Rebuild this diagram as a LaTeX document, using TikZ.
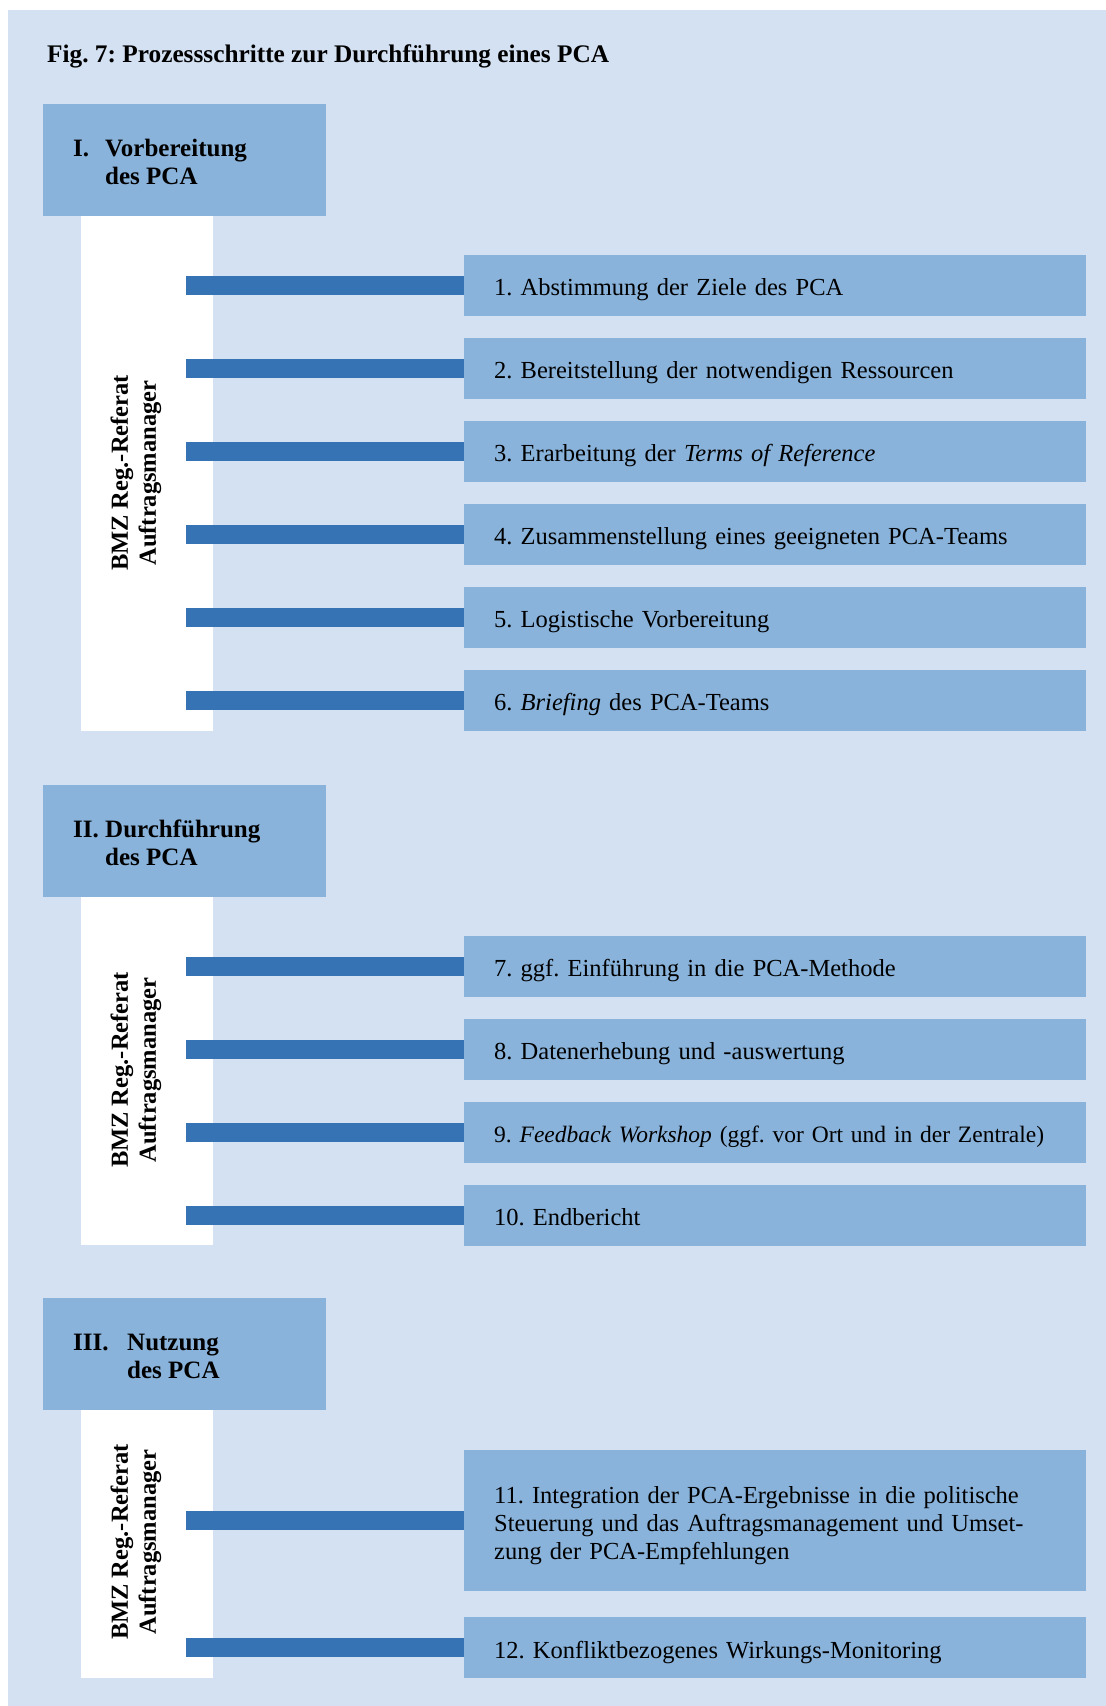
\documentclass[tikz,border=0pt]{standalone}
\usepackage{fontspec}
\setmainfont{Liberation Serif}
\frenchspacing
\definecolor{panelc}{HTML}{D4E1F2}
\definecolor{boxc}{HTML}{89B3DB}
\definecolor{linkc}{HTML}{3573B4}
\begin{document}
\begin{tikzpicture}[x=1pt,y=-1pt,
  stepbox/.style={fill=boxc, anchor=west, minimum width=622pt, minimum height=61pt,
    text width=562pt, inner xsep=30pt, inner ysep=0pt, align=left,
    text height=25pt, text depth=4pt,
    font=\fontsize{24.5}{28}\selectfont},
  hdrbox/.style={fill=boxc, anchor=north west, minimum width=283pt, minimum height=112pt, inner sep=0pt},
  colbox/.style={fill=white, anchor=north west, minimum width=132pt, inner sep=0pt},
  link/.style={draw=linkc, line width=19pt},
  hdrtxt/.style={font=\fontsize{25}{28}\selectfont\bfseries, anchor=base west, inner sep=0pt},
  roletxt/.style={font=\fontsize{24.5}{28}\selectfont\bfseries, rotate=90, align=center, inner sep=0pt},
]
\useasboundingbox (0,0) rectangle (1106,1706);
\fill[panelc] (8,10) rectangle (1106,1706);

\node[font=\fontsize{25.3}{28}\selectfont\bfseries, anchor=base west, inner sep=0pt] (title) at (47,62)
  {Fig. 7: Prozessschritte zur Durchführung eines PCA};

% ---------- Section I
\node[colbox, minimum height=515pt] (c1) at (81,216) {};
\node[hdrbox] (h1) at (43,104) {};
\node[hdrtxt] (h1n) at (73,156) {I.};
\node[hdrtxt] (h1a) at (105,156) {Vorbereitung};
\node[hdrtxt] (h1b) at (105,184) {des PCA};
\node[roletxt] (r1) at (136,473) {BMZ Reg.-Referat\\Auftragsmanager};

\node[stepbox] (s1) at (464,285) {1. Abstimmung der Ziele des PCA};
\node[stepbox] (s2) at (464,368) {2. Bereitstellung der notwendigen Ressourcen};
\node[stepbox] (s3) at (464,451) {3. Erarbeitung der \textit{Terms of Reference}};
\node[stepbox] (s4) at (464,534) {4. Zusammenstellung eines geeigneten PCA-Teams};
\node[stepbox] (s5) at (464,617) {5. Logistische Vorbereitung};
\node[stepbox] (s6) at (464,700) {6. \textit{Briefing} des PCA-Teams};
\coordinate (a1) at (186,285);
\coordinate (a2) at (186,368);
\coordinate (a3) at (186,451);
\coordinate (a4) at (186,534);
\coordinate (a5) at (186,617);
\coordinate (a6) at (186,700);
\foreach \i in {1,...,6} {\draw[link] (a\i) -- (s\i.west);}

% ---------- Section II
\node[colbox, minimum height=348pt] (c2) at (81,897) {};
\node[hdrbox] (h2) at (43,785) {};
\node[hdrtxt] (h2n) at (73,837) {II.};
\node[hdrtxt] (h2a) at (105,837) {Durchführung};
\node[hdrtxt] (h2b) at (105,865) {des PCA};
\node[roletxt] (r2) at (136,1070) {BMZ Reg.-Referat\\Auftragsmanager};

\node[stepbox] (s7) at (464,966) {7. ggf. Einführung in die PCA-Methode};
\node[stepbox] (s8) at (464,1049) {8. Datenerhebung und -auswertung};
\node[stepbox, font=\fontsize{23.5}{28}\selectfont] (s9) at (464,1132)
  {\makebox[562pt][l]{9. \textit{Feedback Workshop} (ggf. vor Ort und in der Zentrale)}};
\node[stepbox] (s10) at (464,1215) {10. Endbericht};
\coordinate (a7) at (186,966);
\coordinate (a8) at (186,1049);
\coordinate (a9) at (186,1132);
\coordinate (a10) at (186,1215);
\foreach \i in {7,...,10} {\draw[link] (a\i) -- (s\i.west);}

% ---------- Section III
\node[colbox, minimum height=268pt] (c3) at (81,1410) {};
\node[hdrbox] (h3) at (43,1298) {};
\node[hdrtxt] (h3n) at (73,1350) {III.};
\node[hdrtxt] (h3a) at (127,1350) {Nutzung};
\node[hdrtxt] (h3b) at (127,1378) {des PCA};
\node[roletxt] (r3) at (136,1542) {BMZ Reg.-Referat\\Auftragsmanager};

\node[stepbox, minimum height=141pt, text depth=60pt] (s11) at (464,1520.5)
  {11. Integration der PCA-Ergebnisse in die politische\\Steuerung und das Auftragsmanagement und Umset-\\zung der PCA-Empfehlungen};
\node[stepbox] (s12) at (464,1647.5) {12. Konfliktbezogenes Wirkungs-Monitoring};
\coordinate (a11) at (186,1520.5);
\coordinate (a12) at (186,1647.5);
\draw[link] (a11) -- (s11.west);
\draw[link] (a12) -- (s12.west);
\end{tikzpicture}
\end{document}
